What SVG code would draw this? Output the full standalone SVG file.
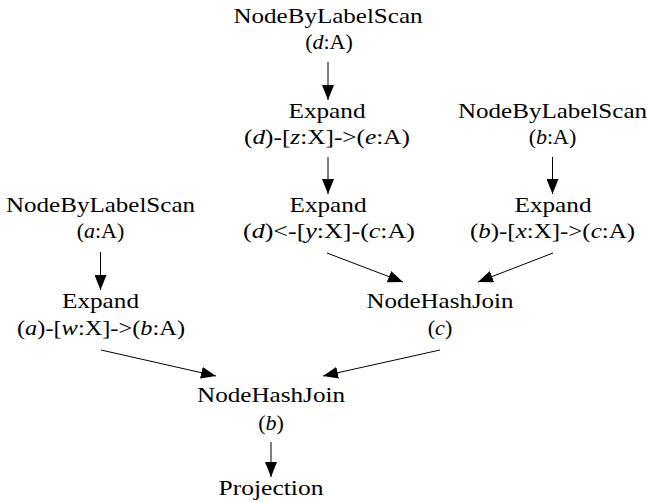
<svg xmlns="http://www.w3.org/2000/svg" width="647" height="502" viewBox="0 0 647 502">
  <style>
    text { font-family: "Liberation Serif", "Times New Roman", serif; font-size: 22px; fill: #000; text-anchor: middle; }
    .i { font-style: italic; }
    .edge { stroke: #000; stroke-width: 1; fill: none; marker-end: url(#arrow); }
  </style>
  <defs>
    <marker id="arrow" markerUnits="userSpaceOnUse" markerWidth="15" markerHeight="12" refX="15" refY="6" orient="auto">
      <path d="M0,0 L15,6 L0,12 z" fill="#000"/>
    </marker>
  </defs>

  <rect width="647" height="502" fill="#fff"/>

  <g id="connectors">
    <path class="edge" d="M328,62 L328,100"/>
    <path class="edge" d="M328,157 L328,194"/>
    <path class="edge" d="M552.5,157 L552.5,194"/>
    <path class="edge" d="M100.5,252 L100.5,290"/>
    <path class="edge" d="M327,253 L403,282"/>
    <path class="edge" d="M553,253 L478,282"/>
    <path class="edge" d="M101,350 L216,376"/>
    <path class="edge" d="M440,350 L323,376"/>
    <path class="edge" d="M271,442 L271,477"/>
  </g>

  <g id="scan-d">
    <text x="328" y="23" textLength="189" lengthAdjust="spacingAndGlyphs">NodeByLabelScan</text>
    <text x="329" y="49">(<tspan class="i">d</tspan>:A)</text>
  </g>

  <g id="expand-dz">
    <text x="327" y="118" textLength="77" lengthAdjust="spacingAndGlyphs">Expand</text>
    <text x="327" y="144" textLength="166" lengthAdjust="spacingAndGlyphs">(<tspan class="i">d</tspan>)-[<tspan class="i">z</tspan>:X]-&gt;(<tspan class="i">e</tspan>:A)</text>
  </g>

  <g id="expand-dy">
    <text x="328" y="212" textLength="77" lengthAdjust="spacingAndGlyphs">Expand</text>
    <text x="329" y="238" textLength="172" lengthAdjust="spacingAndGlyphs">(<tspan class="i">d</tspan>)&lt;-[<tspan class="i">y</tspan>:X]-(<tspan class="i">c</tspan>:A)</text>
  </g>

  <g id="scan-b">
    <text x="552.5" y="118" textLength="189" lengthAdjust="spacingAndGlyphs">NodeByLabelScan</text>
    <text x="552.5" y="144">(<tspan class="i">b</tspan>:A)</text>
  </g>

  <g id="expand-bx">
    <text x="553" y="212" textLength="77" lengthAdjust="spacingAndGlyphs">Expand</text>
    <text x="552.5" y="238" textLength="165" lengthAdjust="spacingAndGlyphs">(<tspan class="i">b</tspan>)-[<tspan class="i">x</tspan>:X]-&gt;(<tspan class="i">c</tspan>:A)</text>
  </g>

  <g id="scan-a">
    <text x="100.5" y="212" textLength="189" lengthAdjust="spacingAndGlyphs">NodeByLabelScan</text>
    <text x="100.5" y="238">(<tspan class="i">a</tspan>:A)</text>
  </g>

  <g id="expand-aw">
    <text x="100.5" y="308" textLength="77" lengthAdjust="spacingAndGlyphs">Expand</text>
    <text x="101" y="335" textLength="168" lengthAdjust="spacingAndGlyphs">(<tspan class="i">a</tspan>)-[<tspan class="i">w</tspan>:X]-&gt;(<tspan class="i">b</tspan>:A)</text>
  </g>

  <g id="join-c">
    <text x="440" y="308" textLength="147" lengthAdjust="spacingAndGlyphs">NodeHashJoin</text>
    <text x="440" y="335">(<tspan class="i">c</tspan>)</text>
  </g>

  <g id="join-b">
    <text x="271" y="402" textLength="148" lengthAdjust="spacingAndGlyphs">NodeHashJoin</text>
    <text x="271" y="430">(<tspan class="i">b</tspan>)</text>
  </g>

  <g id="projection">
    <text x="271" y="495" textLength="105" lengthAdjust="spacingAndGlyphs">Projection</text>
  </g>
</svg>
